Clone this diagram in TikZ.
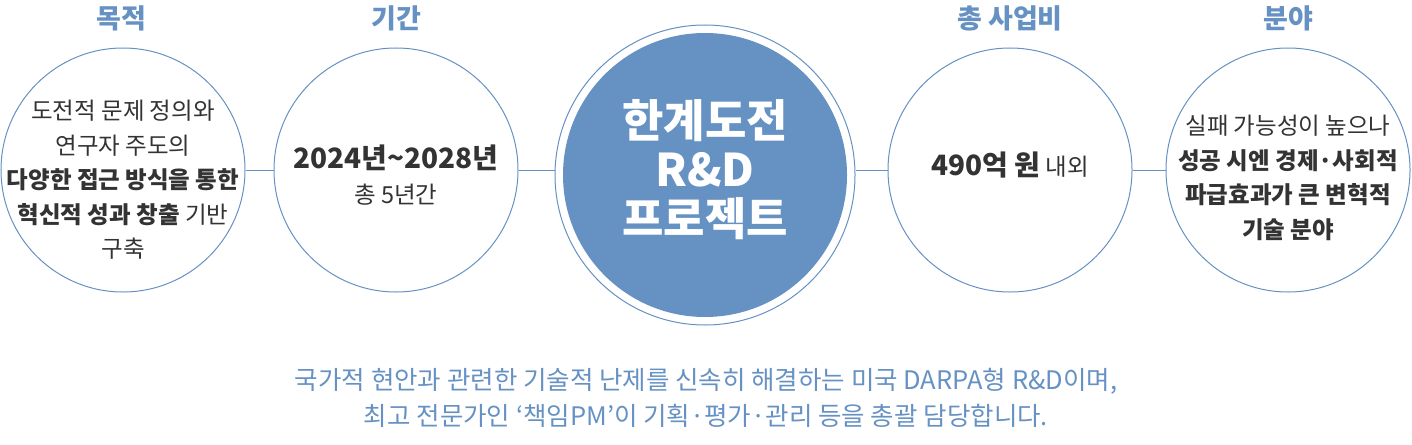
\documentclass[tikz,border=0pt]{standalone}
\usepackage{fontspec}
\setmainfont{Noto Sans CJK KR}
\definecolor{bl}{HTML}{6591C3}
\definecolor{tx}{HTML}{333333}
\begin{document}
\begin{tikzpicture}[x=1pt,y=-1pt,
  circ/.style={circle,draw=bl,line width=1pt,minimum size=244pt,inner sep=0pt},
  ttl/.style={text=bl,font=\fontsize{27}{30}\selectfont\bfseries},
  body/.style={text=tx,align=center,font=\fontsize{23.5}{34.5}\selectfont}]
\useasboundingbox (0,0) rectangle (1412,444);
\node[circ] (c1) at (123,170) {};
\node[circ] (c2) at (396,170) {};
\node[circle,draw=bl,line width=1pt,minimum size=300pt,inner sep=0pt] (c3) at (705,175) {};
\node[circle,fill=bl,minimum size=284pt,inner sep=0pt] (c3i) at (705,175) {};
\node[circ] (c4) at (1010,170) {};
\node[circ] (c5) at (1288,170) {};
\draw[bl,line width=1pt] (c1.east) -- (c2.west);
\draw[bl,line width=1pt] (c2.east) -- (c3.west |- c2.east);
\draw[bl,line width=1pt] (c3.east |- c4.west) -- (c4.west);
\draw[bl,line width=1pt] (c4.east) -- (c5.west);
\node[ttl] (t1) at (121,18) {목적};
\node[ttl] (t2) at (396,18) {기간};
\node[ttl] (t4) at (1010,18) {총 사업비};
\node[ttl] (t5) at (1288,18) {분야};
\node[body] (b1) at (123,180) {도전적 문제 정의와\\연구자 주도의\\\textbf{다양한 접근 방식을 통한}\\\textbf{혁신적 성과 창출} 기반\\구축};
\node[body] (b2) at (396,175) {{\fontsize{28}{34}\selectfont\bfseries 2024년\textasciitilde2028년}\\총 5년간};
\node[text=white,align=center,font=\fontsize{45}{49}\selectfont\bfseries] (b3) at (705,170) {한계도전\\R\&D\\프로젝트};
\node[body] (b4) at (1010,165) {{\fontsize{28}{34}\selectfont\bfseries 490억 원} 내외};
\node[body] (b5) at (1288,178) {실패 가능성이 높으나\\\textbf{성공 시엔 경제·사회적}\\\textbf{파급효과가 큰 변혁적}\\\textbf{기술 분야}};
\node[text=bl,align=center,font=\fontsize{25.5}{36}\selectfont] (n) at (706,398) {국가적 현안과 관련한 기술적 난제를 신속히 해결하는 미국 DARPA형 R\&D이며,\\최고 전문가인 ‘책임PM’이 기획·평가·관리 등을 총괄 담당합니다.};
\end{tikzpicture}
\end{document}
